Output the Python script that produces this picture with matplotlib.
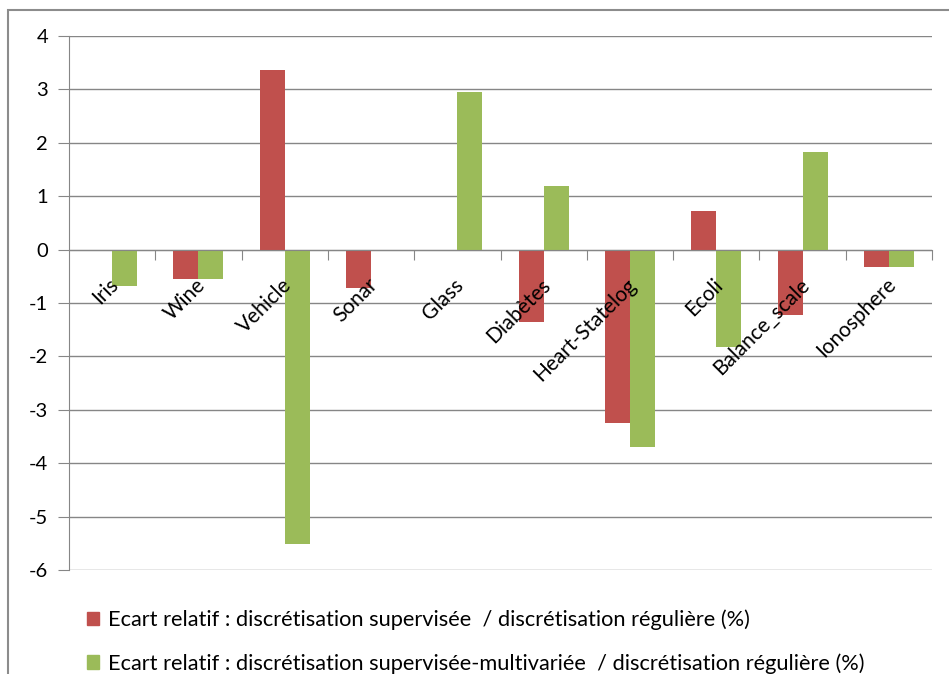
import numpy as np
import matplotlib
matplotlib.use("Agg")
import matplotlib.pyplot as plt
from matplotlib.patches import Patch, Rectangle

datasets = ["Iris", "Wine", "Vehicle", "Sonar", "Glass", "Diabètes",
            "Heart-Statelog", "Ecoli", "Balance_scale", "Ionosphere"]
ecart_supervisee = [0.0, -0.55, 3.37, -0.72, 0.0, -1.35, -3.25, 0.72, -1.22, -0.32]
ecart_multivariee = [-0.68, -0.55, -5.52, 0.0, 2.95, 1.20, -3.70, -1.82, 1.83, -0.32]
labels_legende = [
    "Ecart relatif : discrétisation supervisée  / discrétisation régulière (%)",
    "Ecart relatif : discrétisation supervisée-multivariée  / discrétisation régulière (%)",
]

ROUGE = "#C0504D"
VERT = "#9BBB59"
GRIS = "#868686"

plt.rcParams["font.family"] = ["Lato", "DejaVu Sans"]
plt.rcParams["axes.unicode_minus"] = False

W, H = 949, 674
fig = plt.figure(figsize=(W / 100, H / 100), dpi=100)
ax = fig.add_axes([69 / W, 1 - 570 / H, (932 - 69) / W, (570 - 36) / H])

# cadre gris autour du graphique
fig.patches.append(Rectangle((8 / W, -0.1), 1.2, 1 - 10 / H + 0.1,
                             transform=fig.transFigure, fill=False,
                             edgecolor="#8c8c8c", linewidth=1.5))

x = np.arange(len(datasets))
larg = 0.29
ax.bar(x - larg / 2, ecart_supervisee, larg, color=ROUGE, zorder=3)
ax.bar(x + larg / 2, ecart_multivariee, larg, color=VERT, zorder=3)

ax.set_xlim(-0.5, len(datasets) - 0.5)
ax.set_ylim(-6, 4)
ax.set_yticks(range(-6, 5))
ax.yaxis.grid(True, color=GRIS, linewidth=1, zorder=0)
ax.tick_params(axis="y", length=8, color=GRIS, labelsize=14.5, pad=7)

# axe horizontal sur la ligne zéro, graduations entre les catégories
ax.spines["bottom"].set_position(("data", 0))
ax.spines["bottom"].set_color(GRIS)
ax.spines["bottom"].set_zorder(4)
ax.set_xticks(x + 0.5)
ax.tick_params(axis="x", length=7, color=GRIS, labelbottom=False)
ax.spines["left"].set_color(GRIS)
ax.spines["top"].set_visible(False)
ax.spines["right"].set_visible(False)

for i, nom in enumerate(datasets):
    ax.text(i + 0.04, -0.6, nom, rotation=45, rotation_mode="anchor",
            ha="right", va="center", fontsize=15, zorder=5)

poignees = [Patch(color=ROUGE), Patch(color=VERT)]
fig.legend(poignees, labels_legende, loc="upper left",
           bbox_to_anchor=(67 / W, 1 - 590 / H), frameon=False,
           fontsize=15.7, handlelength=0.55, handleheight=0.55,
           handletextpad=0.45, labelspacing=1.05)

fig.savefig("out.png", dpi=100)
